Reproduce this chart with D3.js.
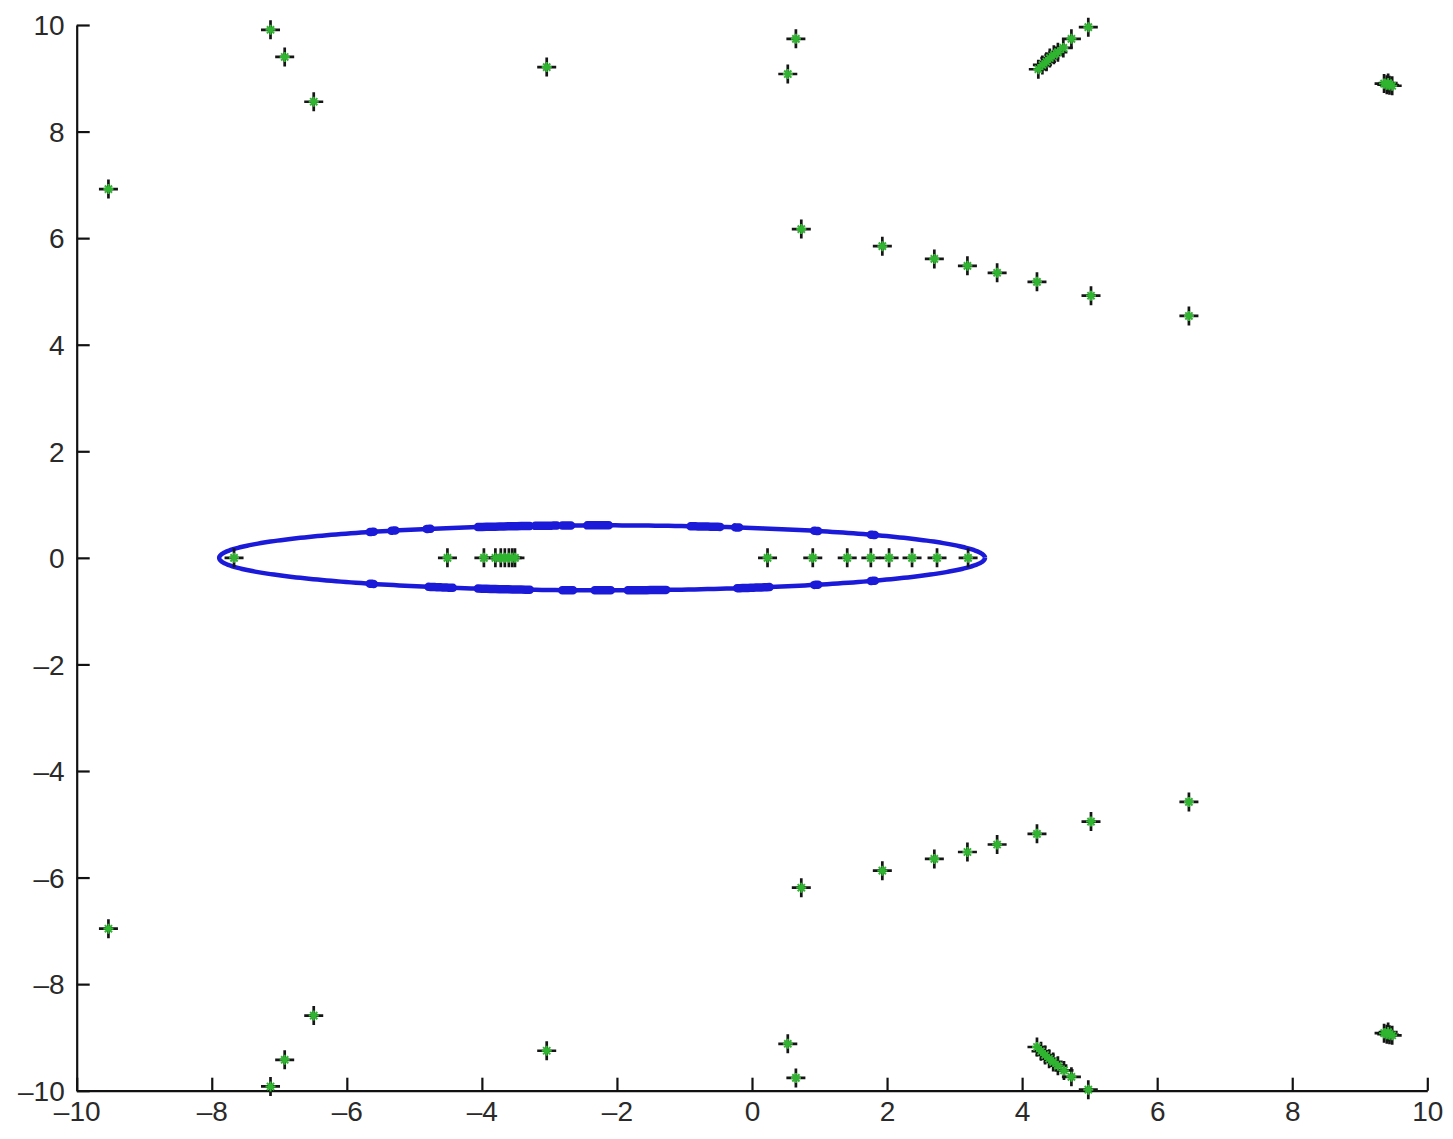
<!DOCTYPE html>
<html>
<head>
<meta charset="utf-8">
<script src="https://cdn.jsdelivr.net/npm/d3@7"></script>
<style>
  html, body { margin: 0; padding: 0; background: #fff; }
  svg { display: block; }
  .tick text { font-family: "Liberation Sans", Arial, Helvetica, sans-serif; }
</style>
</head>
<body>
<svg id="chart" width="1453" height="1139"></svg>
<script>
// Roots in the upper half-plane
const upperX = [-7.13, -6.92, -6.49, -9.53, -3.04, 0.65, 0.53,
  4.24, 4.30, 4.36, 4.41, 4.47, 4.53, 4.61, 4.73, 4.98,
  9.36, 9.40, 9.44, 9.48, 9.42,
  0.73, 1.93, 2.70, 3.19, 3.63, 4.22, 5.02, 6.47];
const upperY = [9.91, 9.40, 8.56, 6.92, 9.21, 9.74, 9.08,
  9.17, 9.25, 9.31, 9.38, 9.44, 9.49, 9.57, 9.74, 9.96,
  8.90, 8.88, 8.87, 8.86, 8.91,
  6.17, 5.85, 5.61, 5.48, 5.35, 5.18, 4.92, 4.54];

// Roots in the lower half-plane
const lowerX = [-7.13, -6.92, -6.49, -9.53, -3.04, 0.65, 0.53,
  4.22, 4.28, 4.34, 4.40, 4.46, 4.53, 4.62, 4.73, 4.98,
  9.36, 9.40, 9.44, 9.48, 9.42,
  0.73, 1.93, 2.70, 3.19, 3.63, 4.22, 5.02, 6.47];
const lowerY = [-9.92, -9.42, -8.59, -6.96, -9.25, -9.76, -9.12,
  -9.18, -9.26, -9.33, -9.40, -9.46, -9.53, -9.62, -9.74, -9.98,
  -8.92, -8.94, -8.95, -8.96, -8.90,
  -6.19, -5.87, -5.65, -5.52, -5.38, -5.18, -4.95, -4.58];

// Real roots on the horizontal axis
const realX = [-7.67, -4.51, -3.97, -3.80, -3.72, -3.66, -3.60, -3.55, -3.51,
  0.23, 0.90, 1.41, 1.76, 2.03, 2.37, 2.74, 3.20];

// Ellipse: [centre x, semi-axis x, semi-axis y]
const ellipseParams = [-2.22, 5.67, 0.61];
// Densely sampled stretches of the ellipse (upper and lower arcs), as x ranges
const denseUpper = [[-5.66, -5.60], [-5.34, -5.28], [-4.82, -4.76], [-4.06, -3.29],
  [-3.21, -2.89], [-2.81, -2.68], [-2.44, -2.12], [-0.91, -0.47], [-0.25, -0.19],
  [0.92, 0.98], [1.76, 1.82]];
const denseLower = [[-5.66, -5.60], [-4.79, -4.43], [-4.06, -3.29], [-2.81, -2.65],
  [-2.33, -2.09], [-1.84, -1.27], [-0.22, 0.26], [0.92, 0.98], [1.76, 1.82]];

const xTicks = [-10, -8, -6, -4, -2, 0, 2, 4, 6, 8, 10];
const yTicks = [-10, -8, -6, -4, -2, 0, 2, 4, 6, 8, 10];

const svg = d3.select("#chart");
const plotLeft = 76.7, plotRight = 1427.3, plotTop = 25, plotBottom = 1090.7;

const x = d3.scaleLinear().domain([-10, 10]).range([plotLeft, plotRight]);
const y = d3.scaleLinear().domain([-10, 10]).range([plotBottom, plotTop]);

const fmt = d => (d < 0 ? "\u2013" + Math.abs(d) : String(d));

// Axes: only left and bottom, ticks pointing inward
const xAxis = d3.axisBottom(x).tickValues(xTicks).tickFormat(fmt)
  .tickSizeInner(-13).tickSizeOuter(0).tickPadding(10);
const yAxis = d3.axisLeft(y).tickValues(yTicks).tickFormat(fmt)
  .tickSizeInner(-13).tickSizeOuter(0).tickPadding(12);

const gx = svg.append("g").attr("transform", `translate(0,${plotBottom})`).call(xAxis);
const gy = svg.append("g").attr("transform", `translate(${plotLeft},0)`).call(yAxis);
[gx, gy].forEach(g => {
  g.select(".domain").attr("stroke", "#111").attr("stroke-width", 2.2);
  g.selectAll(".tick line").attr("stroke", "#111").attr("stroke-width", 2.2);
  g.selectAll(".tick text").attr("fill", "#2a2a2a").attr("font-size", 28);
});
gx.selectAll(".tick text").attr("dy", "0.71em");
gy.selectAll(".tick text").attr("dy", "0.35em");

// Ellipse
const [ec, ea, eb] = ellipseParams;
const ellipsePts = d3.range(0, 361, 1).map(t => {
  const r = t * Math.PI / 180;
  return [ec + ea * Math.cos(r), eb * Math.sin(r)];
});
const line = d3.line().x(d => x(d[0])).y(d => y(d[1]));
svg.append("path")
  .attr("d", line(ellipsePts))
  .attr("fill", "none")
  .attr("stroke", "#1a1ad8")
  .attr("stroke-width", 4.5);

function arcSegment(x0, x1, sign) {
  const n = 12;
  return d3.range(n + 1).map(i => {
    const xv = x0 + (x1 - x0) * i / n;
    const u = (xv - ec) / ea;
    return [xv, sign * eb * Math.sqrt(Math.max(0, 1 - u * u))];
  });
}
const dense = denseUpper.map(s => arcSegment(s[0], s[1], 1))
  .concat(denseLower.map(s => arcSegment(s[0], s[1], -1)));
svg.append("g").selectAll("path").data(dense).join("path")
  .attr("d", line)
  .attr("fill", "none")
  .attr("stroke", "#1a1ad8")
  .attr("stroke-width", 8.5)
  .attr("stroke-linecap", "round");

// Roots: black plus with green asterisk drawn on top
const pts = upperX.map((v, i) => [v, upperY[i]])
  .concat(lowerX.map((v, i) => [v, lowerY[i]]))
  .concat(realX.map(v => [v, 0]));

const P = 9.5;
svg.append("g").selectAll("path").data(pts).join("path")
  .attr("d", d => {
    const cx = x(d[0]), cy = y(d[1]);
    return `M${cx - P},${cy}H${cx + P}M${cx},${cy - P}V${cy + P}`;
  })
  .attr("stroke", "#151515")
  .attr("stroke-width", 2.7)
  .attr("fill", "none");

const S = 5, D = 3.6;
svg.append("g").selectAll("path").data(pts).join("path")
  .attr("d", d => {
    const cx = x(d[0]), cy = y(d[1]);
    return `M${cx - S},${cy}H${cx + S}M${cx},${cy - S}V${cy + S}` +
      `M${cx - D},${cy - D}L${cx + D},${cy + D}M${cx - D},${cy + D}L${cx + D},${cy - D}`;
  })
  .attr("stroke", "#2fb52f")
  .attr("stroke-width", 2)
  .attr("fill", "none");
</script>
</body>
</html>
